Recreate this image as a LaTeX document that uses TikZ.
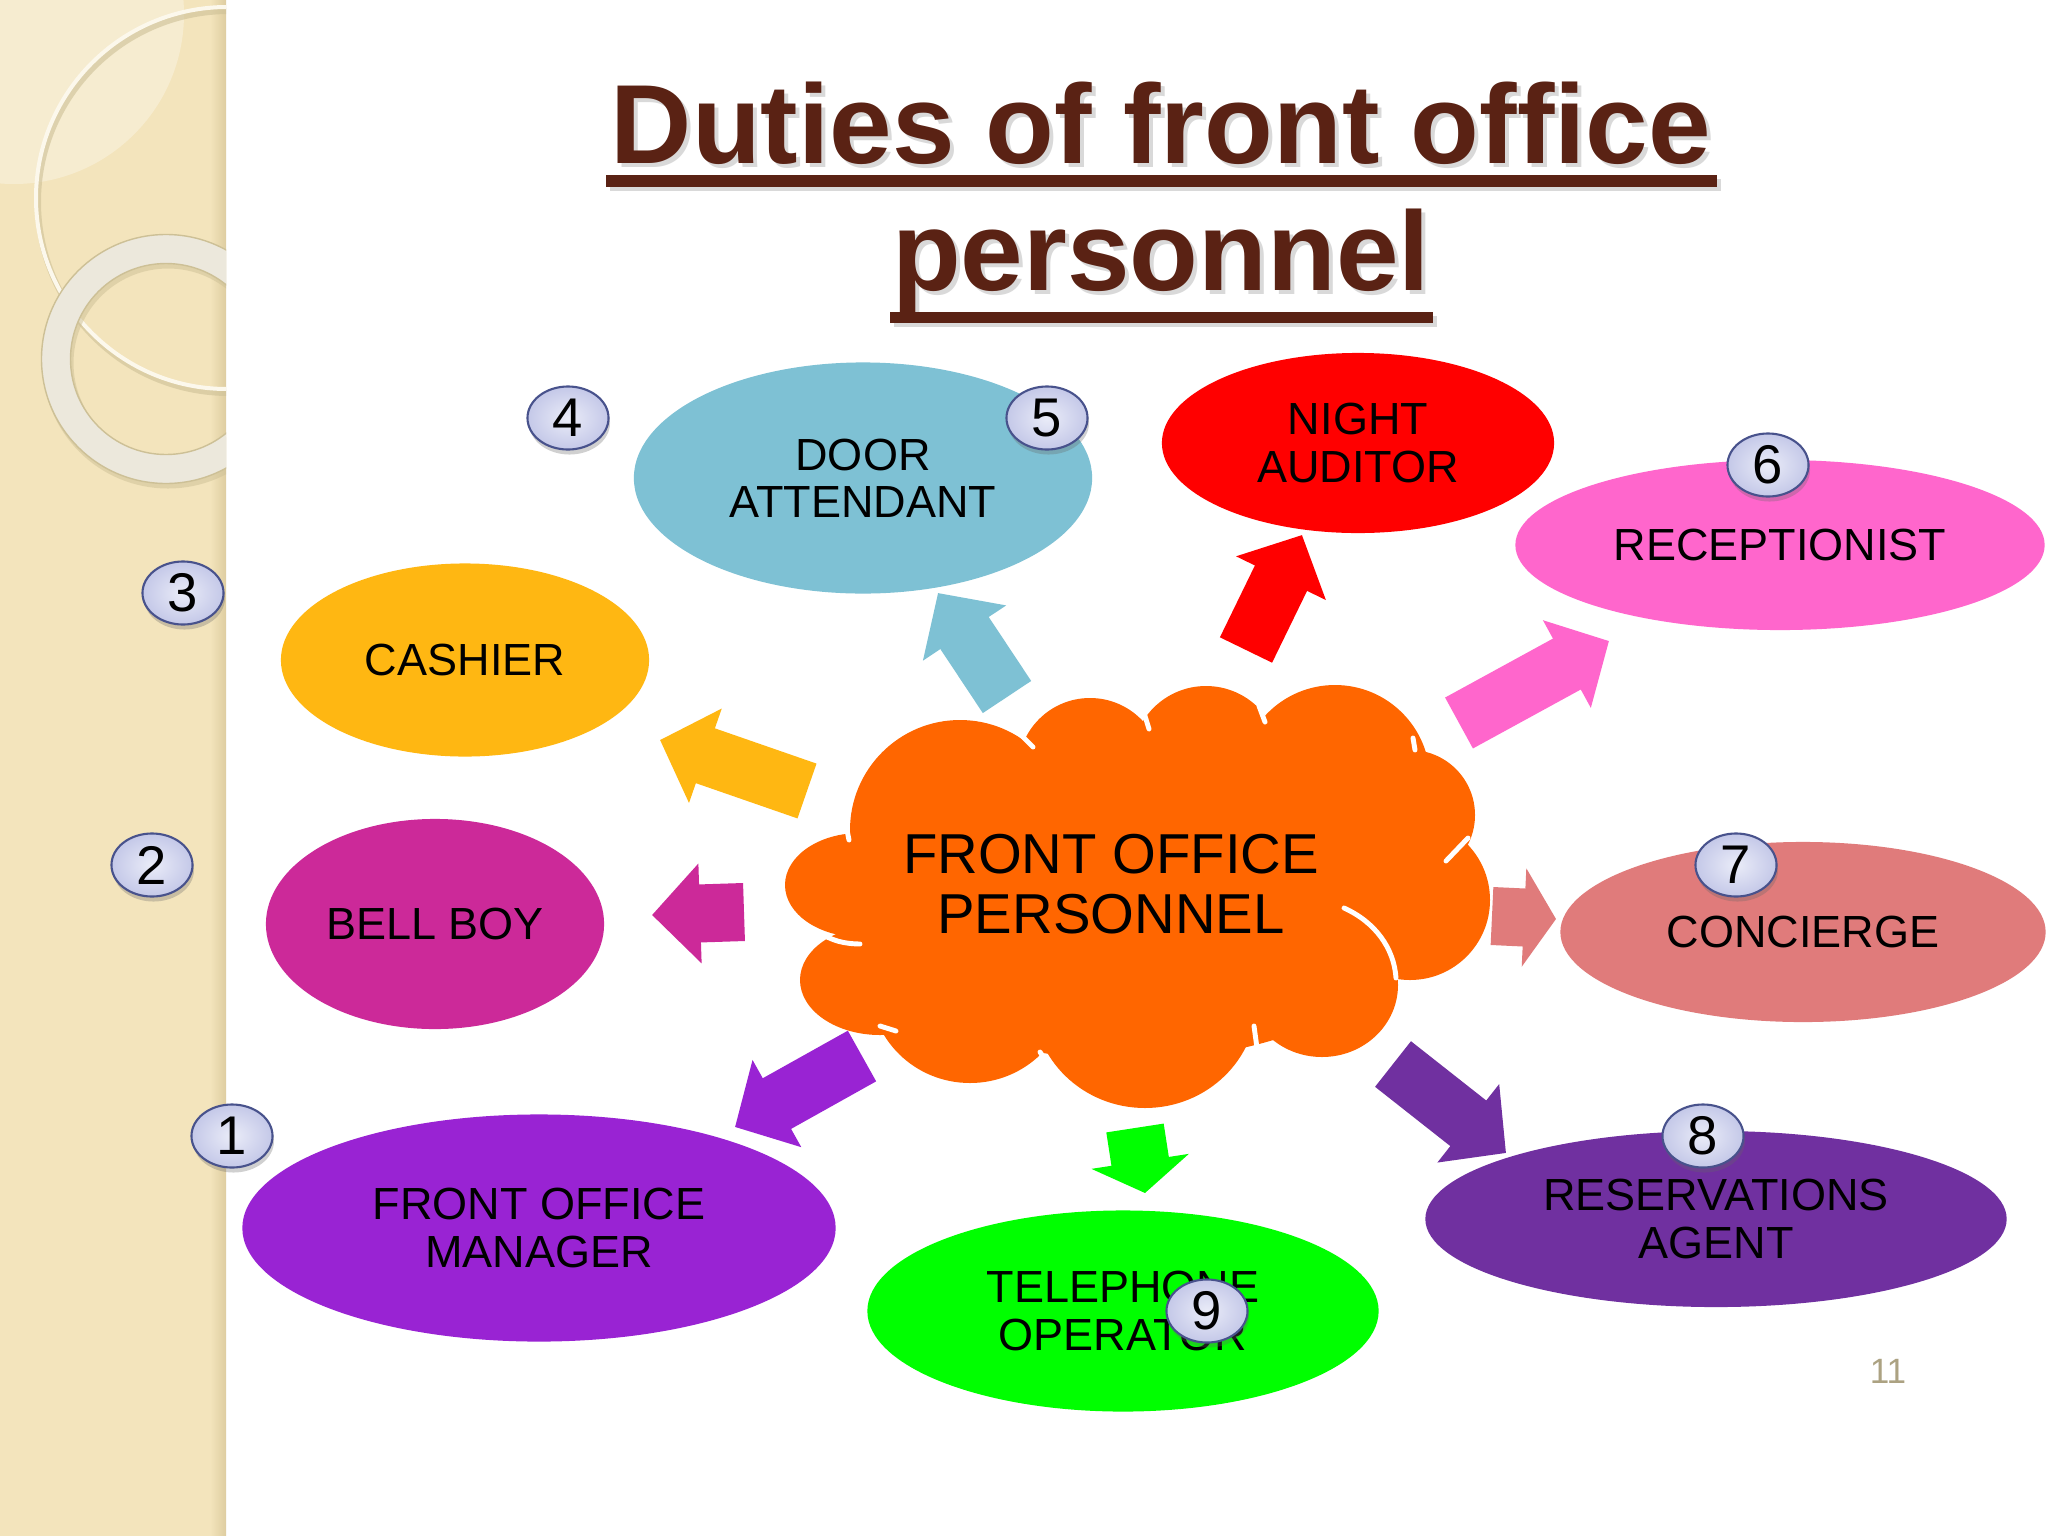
\documentclass[tikz,border=0pt]{standalone}
\usepackage{fontspec}
\setmainfont{Liberation Sans}
\usetikzlibrary{shapes.geometric}
\usetikzlibrary{shadows}
\usetikzlibrary{arrows.meta}
\usepackage{xcolor}

\definecolor{stripbeige}{RGB}{243,228,188}
\definecolor{stripedge}{RGB}{222,205,160}
\definecolor{ringwhite}{RGB}{252,248,236}
\definecolor{ringgrey}{RGB}{236,232,220}
\definecolor{ringedge}{RGB}{205,192,150}
\definecolor{titlebrown}{RGB}{90,34,20}
\definecolor{hubor}{RGB}{255,102,0}
\definecolor{doorblue}{RGB}{126,193,212}
\definecolor{nightred}{RGB}{255,0,0}
\definecolor{recpink}{RGB}{255,102,204}
\definecolor{cashgold}{RGB}{255,183,18}
\definecolor{bellmag}{RGB}{204,41,153}
\definecolor{concrose}{RGB}{224,123,123}
\definecolor{fomviolet}{RGB}{153,35,211}
\definecolor{telgreen}{RGB}{0,255,0}
\definecolor{respurple}{RGB}{112,48,160}
\definecolor{badgefill}{RGB}{196,200,232}
\definecolor{badgelight}{RGB}{234,236,248}
\definecolor{badgeedge}{RGB}{72,82,140}
\definecolor{pagetan}{RGB}{172,162,130}

\begin{document}
\begin{tikzpicture}[x=0.01cm, y=-0.01cm]
        % ================= styles =================
        \tikzset{
            % coloured duty ellipse
            duty/.style={ellipse, inner sep=0pt, align=center, text=black, font=\fontsize{12.8}{13.4}\selectfont},
            % numbered badge (small lavender ellipse)
            badge/.style={ellipse, draw=badgeedge, line width=0.6pt, inner color=badgelight, outer color=badgefill,
                minimum width=0.81cm, minimum height=0.63cm, inner sep=0pt, font=\fontsize{15.5}{16}\selectfont,
                drop shadow={shadow xshift=0.015cm, shadow yshift=-0.05cm, opacity=0.3, fill=black!60}},
            % big block arrow out of the cloud
            block_arrow/.style={line width=0.58cm, -{Triangle[width=0.97cm, length=0.48cm]}},
            % stubby block arrow
            stub_arrow/.style={line width=0.58cm, -{Triangle[width=0.97cm, length=0.32cm]}},
            % white seams inside the cloud
            puff_line/.style={white, line width=1.4pt, line cap=round},
            % title text
            title_text/.style={font=\fontsize{32}{36}\selectfont\bfseries, inner sep=0pt}
        }

        % ================= page and left strip =================
        \fill[white] (0,0) rectangle (2048,1536);
        \useasboundingbox (0,0) rectangle (2048,1536);
        \fill[stripbeige] (0,0) rectangle (226,1536);
        \shade[left color=stripbeige, right color=stripedge] (210,0) rectangle (226,1536);
        \begin{scope}
            \clip (0,0) rectangle (226,1536);
            \fill[white, opacity=0.3] (14,14) circle [radius=170];
            % thin ring
            \draw[ringedge, line width=0.06cm, opacity=0.6] (229,202) circle [radius=191];
            \draw[ringwhite, line width=0.04cm] (227,198) circle [radius=191];
            % thick ring
            \draw[ringedge, line width=0.31cm, opacity=0.5] (168,363) circle [radius=110];
            \draw[ringgrey, line width=0.29cm] (166,359) circle [radius=110];
            \draw[ringedge, line width=0.4pt] (166,359) circle [radius=124.5];
            \draw[ringedge, line width=0.4pt] (166,359) circle [radius=95.5];
        \end{scope}

        % ================= title =================
        \node[title_text, text=black!15, anchor=base] at (1165,167) {Duties of front office};
        \node[title_text, text=titlebrown, anchor=base] (title1) at (1161,163) {Duties of front office};
        \fill[black!15] (610,179) rectangle (1721,191);
        \fill[titlebrown] (606,175) rectangle (1717,187);
        \node[title_text, text=black!15, anchor=base] at (1165,294) {personnel};
        \node[title_text, text=titlebrown, anchor=base] (title2) at (1161,290) {personnel};
        \fill[black!15] (894,316) rectangle (1437,327);
        \fill[titlebrown] (890,312) rectangle (1433,323);

        % ================= arrow end points =================
        \coordinate (door_tail) at (1007,697);   \coordinate (door_tip) at (938,593);
        \coordinate (night_tail) at (1246,650);  \coordinate (night_tip) at (1302,535);
        \coordinate (rec_tail) at (1459,723);    \coordinate (rec_tip) at (1609,641);
        \coordinate (cash_tail) at (807,791);    \coordinate (cash_tip) at (660,740);
        \coordinate (bell_tail) at (744,912);    \coordinate (bell_tip) at (652,915);
        \coordinate (fom_tail) at (862,1056);    \coordinate (fom_tip) at (735,1127);
        \coordinate (tel_tail) at (1135,1128);   \coordinate (tel_tip) at (1145,1193);
        \coordinate (conc_tail) at (1492,916);   \coordinate (conc_tip) at (1556,919);
        \coordinate (res_tail) at (1393,1064);   \coordinate (res_tip) at (1506,1153);

        % ================= block arrows =================
        \draw[block_arrow, doorblue] (door_tail) -- (door_tip);
        \draw[block_arrow, nightred] (night_tail) -- (night_tip);
        \draw[block_arrow, recpink] (rec_tail) -- (rec_tip);
        \draw[block_arrow, cashgold] (cash_tail) -- (cash_tip);
        \draw[block_arrow, bellmag] (bell_tail) -- (bell_tip);
        \draw[block_arrow, fomviolet] (fom_tail) -- (fom_tip);
        \draw[stub_arrow, telgreen] (tel_tail) -- (tel_tip);
        \draw[stub_arrow, concrose] (conc_tail) -- (conc_tip);
        \draw[block_arrow, respurple] (res_tail) -- (res_tip);

        % ================= cloud (union of puffs) =================
        \fill[hubor] (1130,895) ellipse [x radius=300, y radius=165];
        \fill[hubor] (960,830) circle [radius=110];
        \fill[hubor] (1090,770) circle [radius=72];
        \fill[hubor] (1206,760) circle [radius=74];
        \fill[hubor] (1335,780) circle [radius=95];
        \fill[hubor] (1410,815) circle [radius=65];
        \fill[hubor] (1410,900) circle [radius=80];
        \fill[hubor] (1322,985) ellipse [x radius=76, y radius=72];
        \fill[hubor] (1145,1000) ellipse [x radius=112, y radius=108];
        \fill[hubor] (970,985) ellipse [x radius=100, y radius=98];
        \fill[hubor] (880,980) ellipse [x radius=80, y radius=55];
        \fill[hubor] (860,885) ellipse [x radius=75, y radius=52];

        % seams between the puffs
        \draw[puff_line] (846,825) -- (849,840);
        \draw[puff_line] (818,932) to[bend right=15] (860,944);
        \draw[puff_line] (880,1026) -- (896,1031);
        \draw[puff_line] (1040,1052) -- (1051,1069);
        \draw[puff_line] (1254,1026) -- (1257,1048);
        \draw[puff_line] (1344,908) .. controls (1375,922) and (1394,948) .. (1396,978);
        \draw[puff_line] (1446,861) -- (1468,838);
        \draw[puff_line] (1413,738) -- (1415,750);
        \draw[puff_line] (1259,706) -- (1265,722);
        \draw[puff_line] (1145,716) -- (1149,729);
        \draw[puff_line] (1018,732) -- (1033,747);

        \node[align=center, inner sep=0pt, font=\fontsize{16}{17}\selectfont] (hub) at (1111,884) {FRONT OFFICE\\PERSONNEL};

        % ================= duty ellipses =================
        \node[duty, fill=doorblue, minimum width=4.58cm, minimum height=2.31cm] (door) at (863,478) {DOOR\\ATTENDANT};
        \node[duty, fill=nightred, minimum width=3.92cm, minimum height=1.80cm] (night) at (1358,443) {NIGHT\\AUDITOR};
        \node[duty, fill=recpink, minimum width=5.29cm, minimum height=1.70cm] (rec) at (1780,545) {RECEPTIONIST};
        \node[duty, fill=cashgold, minimum width=3.68cm, minimum height=1.93cm] (cash) at (465,660) {CASHIER};
        \node[duty, fill=bellmag, minimum width=3.38cm, minimum height=2.10cm] (bell) at (435,924) {BELL BOY};
        \node[duty, fill=concrose, minimum width=4.85cm, minimum height=1.80cm] (conc) at (1803,932) {CONCIERGE};
        \node[duty, fill=fomviolet, minimum width=5.93cm, minimum height=2.27cm] (fom) at (539,1228) {FRONT OFFICE\\MANAGER};
        \node[duty, fill=telgreen, minimum width=5.11cm, minimum height=2.01cm] (tel) at (1123,1311) {TELEPHONE\\OPERATOR};
        \node[duty, fill=respurple, minimum width=5.81cm, minimum height=1.76cm] (res) at (1716,1219) {RESERVATIONS\\AGENT};

        % ================= number badges =================
        \node[badge] (n1) at (232,1136) {1};
        \node[badge] (n2) at (152,865) {2};
        \node[badge] (n3) at (183,593) {3};
        \node[badge] (n4) at (568,418) {4};
        \node[badge] (n5) at (1047,418) {5};
        \node[badge] (n6) at (1768,465) {6};
        \node[badge] (n7) at (1736,865) {7};
        \node[badge] (n8) at (1703,1136) {8};
        \node[badge] (n9) at (1207,1311) {9};

        \node[text=pagetan, font=\fontsize{10}{12}\selectfont] (pagenum) at (1888,1371) {11};

    \end{tikzpicture}
\end{document}
